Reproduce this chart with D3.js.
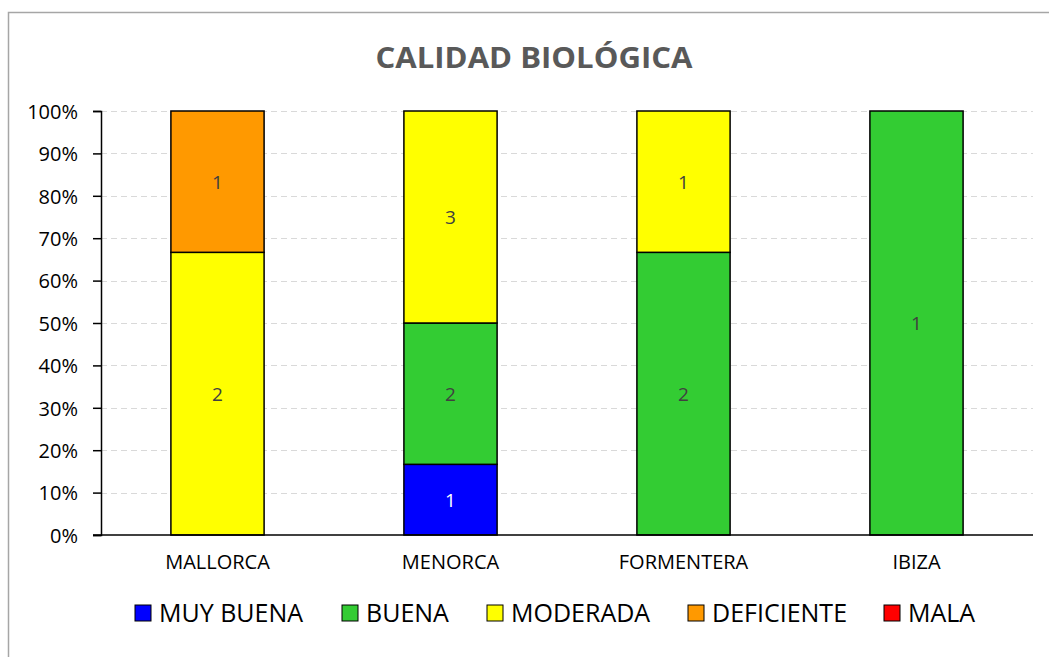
<!DOCTYPE html>
<html>
<head>
<meta charset="utf-8">
<script src="https://cdn.jsdelivr.net/npm/d3@7"></script>
<style>
  body { margin: 0; background: #fff; }
  svg text { font-family: "Open Sans", "Noto Sans", sans-serif; }
</style>
</head>
<body>
<div id="chart"></div>
<script>
// data
const islands = ['MALLORCA', 'MENORCA', 'FORMENTERA', 'IBIZA'];
const classes = ['MUY BUENA', 'BUENA', 'MODERADA', 'DEFICIENTE', 'MALA'];
const muyBuena   = [0, 1, 0, 0];
const buena      = [0, 2, 2, 1];
const moderada   = [2, 3, 1, 0];
const deficiente = [1, 0, 0, 0];
const mala       = [0, 0, 0, 0];
const yTicks = [0, 0.1, 0.2, 0.3, 0.4, 0.5, 0.6, 0.7, 0.8, 0.9, 1];
const colors = ['#0000ff', '#33cc33', '#ffff00', '#ff9900', '#ff0000'];

const width = 1049, height = 657;
const margin = {top: 111, right: 16, bottom: 122, left: 101};

const svg = d3.select('#chart').append('svg')
  .attr('width', width).attr('height', height);

// chart frame
svg.append('rect')
  .attr('x', 8.5).attr('y', 12.5)
  .attr('width', width + 10).attr('height', height + 10)
  .attr('fill', 'none').attr('stroke', '#a6a6a6').attr('stroke-width', 1.5);

svg.append('text')
  .attr('x', 534).attr('y', 68)
  .attr('text-anchor', 'middle')
  .style('font-size', '28px').style('font-weight', 'bold')
  .style('fill', '#595959')
  .attr('textLength', 317).attr('lengthAdjust', 'spacingAndGlyphs')
  .text('CALIDAD BIOLÓGICA');

const x = d3.scaleBand()
  .domain(islands)
  .range([margin.left, width - margin.right])
  .paddingInner(0.6).paddingOuter(0.3);

const y = d3.scaleLinear()
  .domain([0, 1])
  .range([height - margin.bottom, margin.top]);

// gridlines
svg.append('g')
  .selectAll('line')
  .data(yTicks.slice(1))
  .join('line')
  .attr('x1', margin.left).attr('x2', width - margin.right)
  .attr('y1', d => Math.round(y(d)) + 0.5).attr('y2', d => Math.round(y(d)) + 0.5)
  .attr('stroke', '#d9d9d9').attr('stroke-dasharray', '6,4');

// stacked series (percent of total per island)
const rows = islands.map((name, i) => {
  const vals = [muyBuena[i], buena[i], moderada[i], deficiente[i], mala[i]];
  const total = d3.sum(vals);
  const r = {name};
  classes.forEach((c, k) => { r[c] = vals[k] / total; r[c + '_n'] = vals[k]; });
  return r;
});

const stack = d3.stack().keys(classes);
const series = stack(rows);

const groups = svg.append('g')
  .selectAll('g')
  .data(series)
  .join('g')
  .attr('fill', (d, i) => colors[i]);

groups.selectAll('rect')
  .data(d => d.map(v => Object.assign(v, {key: d.key})))
  .join('rect')
  .filter(d => d[1] - d[0] > 0)
  .attr('x', d => x(d.data.name))
  .attr('y', d => y(d[1]))
  .attr('width', x.bandwidth())
  .attr('height', d => y(d[0]) - y(d[1]))
  .attr('stroke', '#000').attr('stroke-width', 1.5);

groups.selectAll('text')
  .data(d => d.filter(v => v[1] - v[0] > 0))
  .join('text')
  .attr('x', d => x(d.data.name) + x.bandwidth() / 2)
  .attr('y', d => (y(d[0]) + y(d[1])) / 2 + 7)
  .attr('text-anchor', 'middle')
  .style('font-size', '19px')
  .style('fill', d => d.key === 'MUY BUENA' ? '#ffffff' : '#404040')
  .text(d => d.data[d.key + '_n']);

// y axis
const yAxis = svg.append('g')
  .attr('transform', `translate(${margin.left},0)`)
  .call(d3.axisLeft(y).tickValues(yTicks).tickFormat(d3.format('.0%')).tickSizeOuter(0).tickSize(8));
yAxis.select('.domain').attr('stroke', '#000').attr('stroke-width', 1.5);
yAxis.selectAll('.tick line').attr('stroke', '#000').attr('stroke-width', 1.5);
yAxis.selectAll('.tick text')
  .attr('x', -23).attr('dy', '0.36em')
  .style('font-size', '20px').style('fill', '#000')
  .style('font-family', '"Open Sans", sans-serif');

// x axis
const xAxis = svg.append('g')
  .attr('transform', `translate(0,${y(0)})`)
  .call(d3.axisBottom(x).tickSize(0).tickSizeOuter(0));
xAxis.select('.domain').attr('stroke', '#000').attr('stroke-width', 1.5)
  .attr('d', `M${margin.left - 8},0H${width - margin.right}`);
xAxis.selectAll('.tick text')
  .attr('y', 20)
  .style('font-size', '20px').style('fill', '#000')
  .style('font-family', '"Open Sans", sans-serif');

// legend
const legendX = [135, 342, 487, 688, 884];
const legend = svg.append('g')
  .selectAll('g')
  .data(classes)
  .join('g')
  .attr('transform', (d, i) => `translate(${legendX[i]},605)`);
legend.append('rect')
  .attr('width', 16).attr('height', 16)
  .attr('fill', (d, i) => colors[i])
  .attr('stroke', '#000').attr('stroke-width', 1);
legend.append('text')
  .attr('x', 24).attr('y', 17)
  .style('font-size', '25px').style('fill', '#000')
  .text(d => d);
</script>
</body>
</html>
